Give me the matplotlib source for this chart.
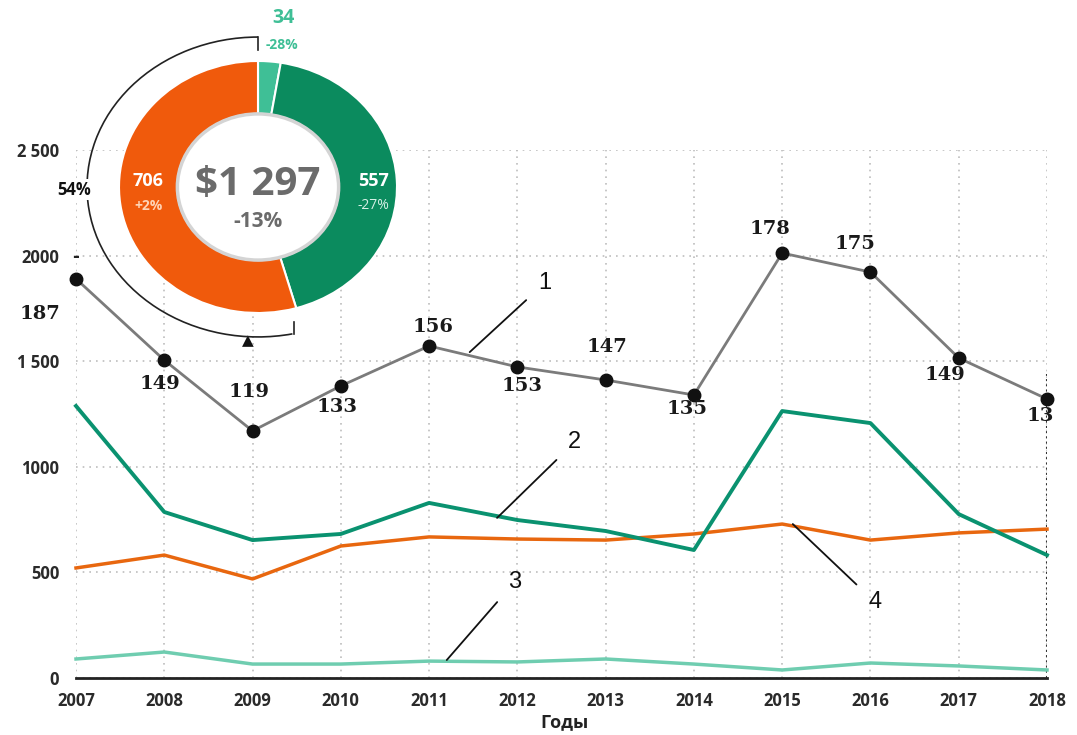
import matplotlib
matplotlib.use("Agg")
import matplotlib.pyplot as plt
from matplotlib.patches import Arc, Ellipse

# ---- data ----
years = [2007, 2008, 2009, 2010, 2011, 2012, 2013, 2014, 2015, 2016, 2017, 2018]
total = [1890, 1505, 1170, 1383, 1572, 1473, 1411, 1340, 2012, 1922, 1515, 1321]
total_labels = ["187", "149", "119", "133", "156", "153", "147", "135", "178", "175", "149", "13"]
series2 = [1288, 786, 653, 682, 829, 748, 696, 606, 1264, 1207, 776, 582]
series3 = [90, 123, 66, 66, 80, 76, 90, 66, 38, 71, 57, 38]
series4 = [521, 582, 469, 625, 668, 658, 653, 682, 729, 653, 687, 705]

yticks = [0, 500, 1000, 1500, 2000, 2500]
ytick_labels = ["0", "500", "1000", "1 500", "2000", "2 500"]

donut_values = [34, 557, 706]
donut_colors = ["#3fbf96", "#0b8b5e", "#f05a0c"]

# label offsets (pixels) for the total-line annotations
label_offsets = [(-36, -35), (-4, -24), (-3, 39), (-4, -21), (4, 19), (5, -19),
                 (1, 33), (-7, -14), (-12, 24), (-15, 28), (-14, -17), (-7, -17)]

sans = ["Open Sans", "DejaVu Sans"]

fig = plt.figure(figsize=(10.77, 7.35), dpi=100)
ax = fig.add_axes([76 / 1077, 57 / 735, 971 / 1077, 528 / 735])

ax.set_xlim(2007, 2018)
ax.set_ylim(0, 2500)
ax.set_xticks(years)
ax.set_xticklabels([str(y) for y in years], fontsize=12, fontweight="bold",
                   family=sans, color="#2a2a2a")
ax.set_yticks(yticks)
ax.set_yticklabels(ytick_labels, fontsize=12, fontweight="bold", family=sans, color="#2a2a2a")
ax.tick_params(axis="both", length=0)
ax.tick_params(axis="x", pad=10)
ax.tick_params(axis="y", pad=12)
for s in ["top", "right", "left"]:
    ax.spines[s].set_visible(False)
ax.spines["bottom"].set_linewidth(2)
ax.spines["bottom"].set_color("#222222")
ax.grid(True, linestyle=(0, (1, 3)), color="#bdbdbd", linewidth=1.2)
ax.set_axisbelow(True)
ax.axvline(2018, ymin=0, ymax=0.575, color="#333333", linestyle=(0, (1, 1.5)), linewidth=1.5)

# lines
ax.plot(years, series3, color="#6fcdb0", linewidth=2.5, zorder=3, clip_on=False)
ax.plot(years, series4, color="#e8670f", linewidth=2.5, zorder=3, clip_on=False)
ax.plot(years, series2, color="#0a9270", linewidth=2.8, zorder=4, clip_on=False)
ax.plot(years, total, color="#7b7b7b", linewidth=2, marker="o", markersize=9,
        markerfacecolor="#111111", markeredgecolor="#111111", zorder=5, clip_on=False)

for x, y, lab, off in zip(years, total, total_labels, label_offsets):
    ax.annotate(lab, (x, y), xytext=off, textcoords="offset pixels",
                ha="center", va="center", fontsize=14, fontweight="bold",
                family="DejaVu Serif", color="#1a1a1a", zorder=6, annotation_clip=False)

# small marks near first points
ax.annotate("▲", (years[2], total[2]), xytext=(-5, 90), textcoords="offset pixels",
            ha="center", va="center", fontsize=11, color="#111111")
ax.annotate("-", (years[0], total[0]), xytext=(0, 22), textcoords="offset pixels",
            ha="center", va="center", fontsize=12, fontweight="bold", color="#222222")

# numbered callouts
callouts = [("1", (2011.46, 1543), (2012.31, 1870)),
            ("2", (2011.77, 758), (2012.65, 1117)),
            ("3", (2011.20, 85), (2011.97, 455)),
            ("4", (2015.12, 729), (2016.05, 360))]
for txt, xy, xyt in callouts:
    ax.annotate(txt, xy, xytext=xyt, ha="center", va="center", fontsize=17,
                family="Liberation Sans", color="#111111", zorder=7,
                arrowprops=dict(arrowstyle="-", color="#111111", lw=1.3,
                                shrinkA=9, shrinkB=0))

fig.text(565 / 1077, 1 - 722 / 735, "Годы", ha="center", va="center",
         fontsize=13, fontweight="bold", family=sans, color="#222222")

# ---- donut ----
dax = fig.add_axes([(258 - 139) / 1077, (735 - 187 - 126) / 735, 278 / 1077, 252 / 735])
dax.pie(donut_values, colors=donut_colors, startangle=90, counterclock=False,
        wedgeprops=dict(width=0.42, edgecolor="white", linewidth=1.5))
dax.set_aspect("auto")
dax.set_xlim(-1, 1)
dax.set_ylim(-1, 1)
dax.set_facecolor("white")
dax.patch.set_visible(True)
dax.add_patch(Ellipse((0, 0), 1.16, 1.16, facecolor="white", edgecolor="#d4d4d4", linewidth=2.5))

dax.add_patch(Arc((0, 0), 2.46, 2.38, theta1=90, theta2=282, color="#222222",
                  linewidth=1.2, clip_on=False))
dax.plot([0, 0], [1.19, 1.09], color="#222222", linewidth=1.2, clip_on=False)
dax.plot([0.256, 0.256], [-1.164, -1.07], color="#222222", linewidth=1.2, clip_on=False)

dax.text(0, 0.02, "$1 297", ha="center", va="center", fontsize=29, fontweight="bold",
         family=sans, color="#6b6b6b")
dax.text(0, -0.27, "-13%", ha="center", va="center", fontsize=15, fontweight="bold",
         family=sans, color="#6b6b6b")
dax.text(-0.79, 0.05, "706", ha="center", va="center", fontsize=13, fontweight="bold",
         family=sans, color="white")
dax.text(-0.79, -0.15, "+2%", ha="center", va="center", fontsize=10, fontweight="bold",
         family=sans, color="#ffd3b5")
dax.text(0.83, 0.05, "557", ha="center", va="center", fontsize=13, fontweight="bold",
         family=sans, color="white")
dax.text(0.83, -0.15, "-27%", ha="center", va="center", fontsize=10,
         family=sans, color="#d6f0e6")
dax.text(0.18, 1.34, "34", ha="center", va="center", fontsize=14, fontweight="bold",
         family=sans, color="#3fbf96", clip_on=False)
dax.text(0.17, 1.13, "-28%", ha="center", va="center", fontsize=10, fontweight="bold",
         family=sans, color="#3fbf96", clip_on=False)
dax.text(-1.32, -0.02, "54%", ha="center", va="center", fontsize=12, fontweight="bold",
         family=sans, color="#111111", clip_on=False,
         bbox=dict(facecolor="white", edgecolor="none", pad=1))

fig.savefig("out.png", dpi=100, facecolor="white")
